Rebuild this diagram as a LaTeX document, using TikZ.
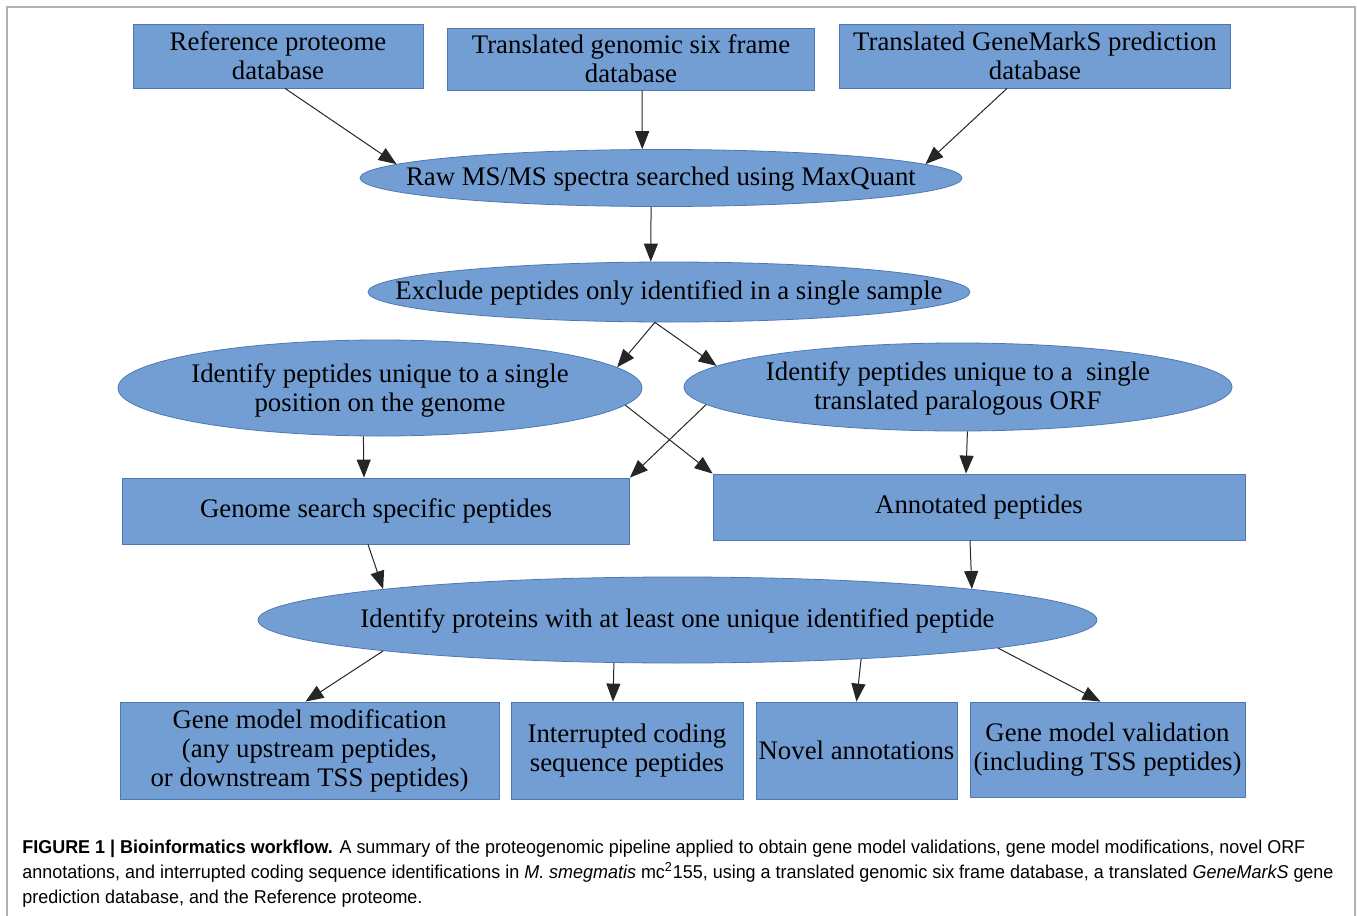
\documentclass[tikz,border=0pt]{standalone}
\usepackage{fontspec}
\setmainfont{Liberation Serif}
\newfontfamily\capfont[FakeStretch=0.965]{Liberation Sans}
\usetikzlibrary{arrows.meta,calc,shapes.geometric}

\definecolor{flowblue}{RGB}{114,158,212}
\definecolor{flowedge}{RGB}{78,120,180}

\begin{document}
\begin{tikzpicture}[x=0.5pt,y=-0.5pt,
    box/.style={rectangle,fill=flowblue,draw=flowedge,line width=0.4pt,
      inner sep=0pt,align=center,font=\fontsize{13.4}{14.5}\selectfont},
    oval/.style={ellipse,fill=flowblue,draw=flowedge,line width=0.4pt,inner sep=0pt},
    ovaltxt/.style={inner sep=0pt,align=center,font=\fontsize{13.4}{14.5}\selectfont},
    arr/.style={-{Triangle[length=9pt,width=7pt]},line width=0.5pt,draw=black!85}]
  \useasboundingbox (0,0) rectangle (1357,916);
  % figure frame, open at the bottom
  \draw[gray!60,line width=1pt] (7,916) -- (7,7) -- (1355,7) -- (1355,916);

  % databases
  \node[box,minimum width=145pt,minimum height=32pt] (ref) at (278,56) {Reference proteome\\database};
  \node[box,minimum width=183.5pt,minimum height=31pt] (six) at (631,59) {Translated genomic six frame\\database};
  \node[box,minimum width=195.5pt,minimum height=32pt] (gms) at (1035,56) {Translated GeneMarkS prediction\\database};

  % search and filtering
  \node[oval,minimum width=301pt,minimum height=28.5pt] (raw) at (661,178) {};
  \node[ovaltxt] (rawtxt) at (661,179) {Raw MS/MS spectra searched using MaxQuant};
  \node[oval,minimum width=301pt,minimum height=30pt] (excl) at (669,292) {};
  \node[ovaltxt] (excltxt) at (669,293) {Exclude peptides only identified in a single sample};
  \node[oval,minimum width=262pt,minimum height=48pt] (pos) at (380,388) {};
  \node[ovaltxt] (postxt) at (380,390) {Identify peptides unique to a single\\position on the genome};
  \node[oval,minimum width=274pt,minimum height=44pt] (orf) at (958,387) {};
  \node[ovaltxt] (orftxt) at (958,388) {Identify peptides unique to a\ \ single\\translated paralogous ORF};

  \node[box,minimum width=253.5pt,minimum height=33pt] (gen) at (376,511) {Genome search specific peptides};
  \node[box,minimum width=266pt,minimum height=33pt] (ann) at (979,507) {Annotated peptides};

  \node[oval,minimum width=419.5pt,minimum height=43pt] (prot) at (677.5,620) {};
  \node[ovaltxt] (prottxt) at (677.5,621) {Identify proteins with at least one unique identified peptide};

  % outcomes
  \node[box,minimum width=189.5pt,minimum height=48.5pt] (mod) at (309.5,750.5) {Gene model modification\\(any upstream peptides,\\or downstream TSS peptides)};
  \node[box,minimum width=116pt,minimum height=48.5pt] (ics) at (627,750.5) {Interrupted coding\\sequence peptides};
  \node[box,minimum width=100.5pt,minimum height=48.5pt] (nov) at (856.5,750.5) {Novel annotations};
  \node[box,minimum width=137.5pt,minimum height=47.5pt] (val) at (1107.5,749.5) {Gene model validation\\(including TSS peptides)};

  % connectors
  \draw[arr] ($(ref.south)+(7,0)$) -- (raw.177.2);
  \draw[arr] ($(six.south)+(11,0)$) -- (raw.123.3);
  \draw[arr] ($(gms.south)+(-28,0)$) -- (raw.3.3);
  \draw[arr] (raw.-109) -- (excl.121);
  \draw[arr] (excl.-115) -- (pos.5.9);
  \draw[arr] (excl.-115) -- (orf.175.4);
  \draw[arr] (pos.-4) -- (ann.north west);
  \draw[arr] (orf.-176.4) -- (gen.north east);
  \draw[arr] (pos.-109.5) -- ($(gen.north)+(-12,0)$);
  \draw[arr] (orf.-78.7) -- ($(ann.north)+(-13,0)$);
  \draw[arr] ($(gen.south)+(-8,0)$) -- (prot.174.1);
  \draw[arr] ($(ann.south)+(-9,0)$) -- (prot.6.7);
  \draw[arr] (prot.-174.5) -- ($(mod.north)+(-4,0)$);
  \draw[arr] (prot.-146.4) -- ($(ics.north)+(-14,0)$);
  \draw[arr] (prot.-12.3) -- (nov.north);
  \draw[arr] (prot.-5) -- ($(val.north)+(-7,0)$);

  % caption
  \node[anchor=north west,inner sep=0pt,align=left,font=\capfont\fontsize{9.3}{12.5}\selectfont] (cap) at (22,840)
    {\textbf{FIGURE 1 | Bioinformatics workflow.} A summary of the proteogenomic pipeline applied to obtain gene model validations, gene model modifications, novel ORF\\
     annotations, and interrupted coding sequence identifications in \textit{M. smegmatis} mc\textsuperscript{2}155, using a translated genomic six frame database, a translated \textit{GeneMarkS} gene\\
     prediction database, and the Reference proteome.};
\end{tikzpicture}
\end{document}
